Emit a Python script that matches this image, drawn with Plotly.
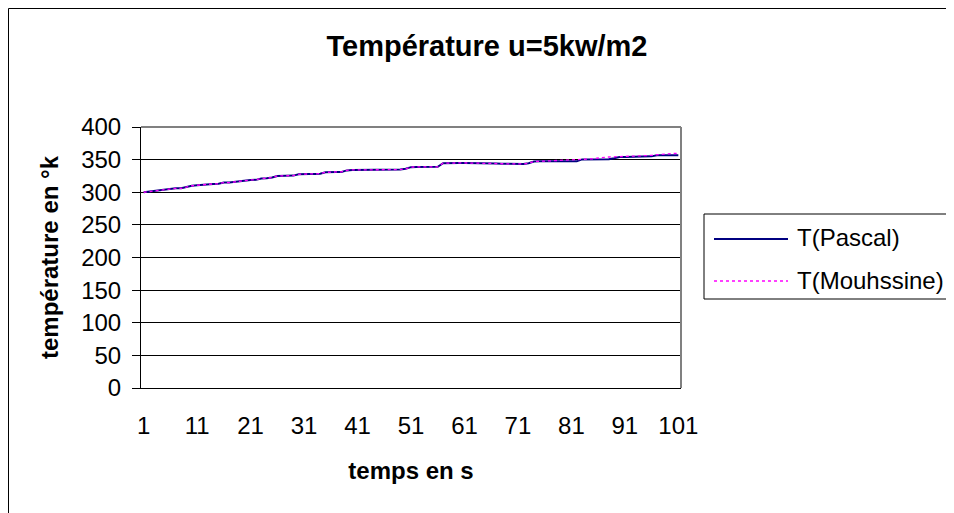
import plotly.graph_objects as go

# ---------------- data ----------------
temps = list(range(1, 102))

t_pascal = [
    300, 301, 302.5, 302.6, 303.5, 305.5, 306, 306, 308, 310,
    310.7, 311.5, 312.8, 312.8, 313, 314.8, 314.8, 315.8, 317.5, 318.9,
    318.9, 319, 321, 321.5, 322.5, 325, 325, 325, 325.5, 327.5,
    328.1, 328.1, 328.1, 328.5, 330.5, 331.2, 331.2, 331.2, 333.5, 334.2,
    334.2, 334.2, 334.3, 334.5, 334.7, 334.7, 334.7, 334.7, 334.7, 336,
    338.5, 338.8, 338.8, 338.8, 338.8, 339, 344.5, 344.9, 344.9, 344.9,
    344.9, 344.9, 344.9, 344.9, 344.6, 344.3, 344, 343.7, 343.4, 343.4,
    343.4, 343.4, 344.5, 347.2, 347.4, 347.4, 347.4, 347.4, 347.4, 347.4,
    347.4, 347.4, 350.3, 350.5, 350.5, 350.5, 350.5, 350.5, 352, 354,
    354, 354, 354, 354, 354, 355, 356.6, 356.6, 356.6, 356.6, 356.6,
]

t_mouhssine = [
    300, 301, 302.5, 302.6, 303.5, 305.5, 306, 306, 308, 310,
    310.7, 311.5, 312.8, 312.8, 313, 314.8, 314.8, 315.8, 317.5, 318.9,
    318.9, 319, 321, 321.5, 322.5, 325, 325, 325, 325.5, 327.5,
    328.1, 328.1, 328.1, 328.5, 330.5, 331.2, 331.2, 331.2, 333.5, 334.2,
    334.2, 334.2, 334.3, 334.5, 334.7, 334.7, 334.7, 334.7, 334.7, 336,
    338.5, 338.8, 338.8, 338.8, 338.8, 339, 344.5, 344.9, 344.9, 344.9,
    344.9, 344.9, 344.9, 344.9, 344.6, 344.3, 344, 343.7, 343.4, 343.4,
    343.4, 343.4, 344.5, 347.2, 347.4, 347.8, 348, 348.3, 348.6, 349,
    349.3, 349.6, 350.5, 350.8, 351.2, 352.5, 353.5, 354, 354.3, 354.5,
    354.6, 355.5, 356, 356, 356.2, 356.5, 357.5, 358.5, 359.2, 359.4, 359.5,
]

x_tick_vals = [1, 11, 21, 31, 41, 51, 61, 71, 81, 91, 101]
y_tick_vals = [0, 50, 100, 150, 200, 250, 300, 350, 400]

series_names = ["T(Pascal)", "T(Mouhssine)"]
series_colors = ["#000080", "#FF00FF"]

title_text = "Température u=5kw/m2"
x_title = "temps en s"
y_title = "température en °k"

FONT = "Liberation Sans, Arial, sans-serif"

# ---------------- geometry ----------------
# The page body has an 8px margin, so the figure starts at page (8, 8).
OFF = 8
W, H = 954 - OFF, 513 - OFF
PLOT_X0, PLOT_X1, PLOT_Y0, PLOT_Y1 = 141, 681, 127, 388   # page coords of plot area
L = PLOT_X0 - OFF
T = PLOT_Y0 - OFF
R = W - (PLOT_X1 - OFF)
B = H - (PLOT_Y1 - OFF)
pw, ph = W - L - R, H - T - B


def px(x):
    """page x -> paper x"""
    return (x - OFF - L) / pw


def py(y):
    """page y -> paper y"""
    return (H - B - (y - OFF)) / ph


fig = go.Figure()
fig.add_trace(go.Scatter(
    x=temps, y=t_pascal, mode="lines", name=series_names[0],
    line=dict(color=series_colors[0], width=2), showlegend=False,
))
fig.add_trace(go.Scatter(
    x=temps, y=t_mouhssine, mode="lines", name=series_names[1],
    line=dict(color=series_colors[1], width=1.3, dash="dot"), showlegend=False,
))

shapes = []
# plot area border: top and right gray
shapes.append(dict(type="line", xref="paper", yref="paper", x0=0, x1=1, y0=1, y1=1,
                   line=dict(color="#808080", width=2), layer="above"))
shapes.append(dict(type="line", xref="paper", yref="paper", x0=1, x1=1, y0=0, y1=1,
                   line=dict(color="#808080", width=2), layer="above"))
# outer chart frame (top and left visible)
shapes.append(dict(type="line", xref="paper", yref="paper", x0=px(8.5), x1=px(970), y0=py(8.5), y1=py(8.5),
                   line=dict(color="#000000", width=1)))
shapes.append(dict(type="line", xref="paper", yref="paper", x0=px(8.5), x1=px(8.5), y0=py(8.5), y1=py(530),
                   line=dict(color="#000000", width=1)))
# legend box
shapes.append(dict(type="rect", xref="paper", yref="paper", x0=px(704), x1=px(951), y0=py(299), y1=py(214),
                   line=dict(color="#000000", width=1), fillcolor="white"))
# legend samples
shapes.append(dict(type="line", xref="paper", yref="paper", x0=px(714), x1=px(788), y0=py(239), y1=py(239),
                   line=dict(color=series_colors[0], width=2)))
shapes.append(dict(type="line", xref="paper", yref="paper", x0=px(714), x1=px(788), y0=py(281), y1=py(281),
                   line=dict(color=series_colors[1], width=1.3, dash="dot")))

annotations = [
    dict(text=series_names[0], xref="paper", yref="paper", x=px(795), y=py(237),
         xanchor="left", yanchor="middle", showarrow=False,
         font=dict(family=FONT, size=24, color="black")),
    dict(text=series_names[1], xref="paper", yref="paper", x=px(795), y=py(280),
         xanchor="left", yanchor="middle", showarrow=False,
         font=dict(family=FONT, size=24, color="black")),
]

fig.update_layout(
    width=W, height=H,
    margin=dict(l=L, r=R, t=T, b=B, pad=0),
    paper_bgcolor="white", plot_bgcolor="white",
    font=dict(family=FONT, size=24, color="black"),
    title=dict(text="<b>" + title_text + "</b>", x=(487 - OFF) / W, xref="container", xanchor="center",
               y=1 - (46 - OFF) / H, yref="container", yanchor="middle",
               font=dict(family=FONT, size=29, color="black")),
    showlegend=False,
    shapes=shapes,
    annotations=annotations,
)

fig.update_xaxes(
    range=[0.5, 101.5], tickmode="array", tickvals=x_tick_vals,
    ticktext=[str(v) for v in x_tick_vals],
    showgrid=False, zeroline=False, showline=True, linecolor="black", linewidth=1,
    ticks="", ticklabelstandoff=16,
    tickfont=dict(family=FONT, size=24, color="black"),
    title=dict(text="<b>" + x_title + "</b>", standoff=24,
               font=dict(family=FONT, size=24, color="black")),
    automargin=False,
)
fig.update_yaxes(
    range=[0, 400], tickmode="array", tickvals=y_tick_vals,
    showgrid=True, gridcolor="black", gridwidth=1, zeroline=False,
    showline=True, linecolor="black", linewidth=1,
    ticks="outside", ticklen=8, tickcolor="black", ticklabelstandoff=6,
    tickfont=dict(family=FONT, size=24, color="black"),
    title=dict(text="<b>" + y_title + "</b>", standoff=15,
               font=dict(family=FONT, size=24, color="black")),
    automargin=False,
)

fig.write_html("out.html")
